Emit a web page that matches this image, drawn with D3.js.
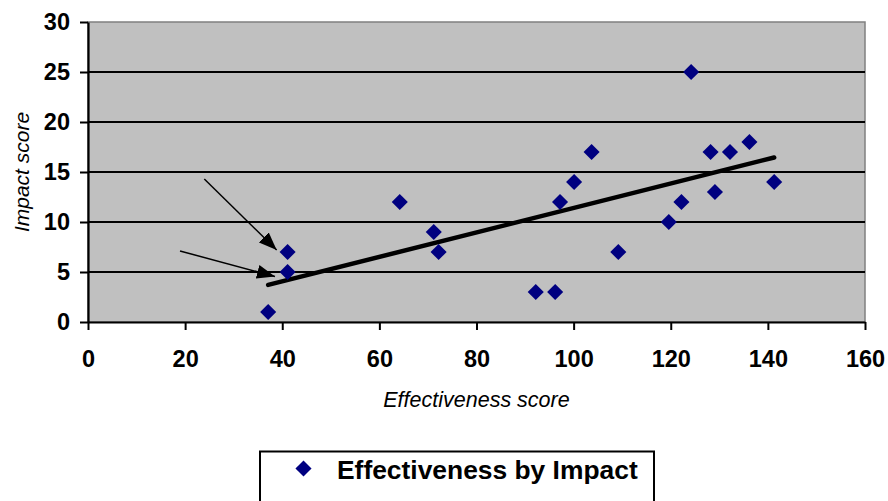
<!DOCTYPE html>
<html>
<head>
<meta charset="utf-8">
<script src="https://cdn.jsdelivr.net/npm/d3@7"></script>
<style>
  html, body { margin: 0; padding: 0; background: #fff; }
  svg { display: block; font-family: "Liberation Sans", Arial, sans-serif; }
</style>
</head>
<body>
<svg id="chart" width="888" height="501"></svg>
<script>
// Effectiveness score (x) and impact score (y) per item
const effectiveness = [37.1, 41.1, 41.1, 64.2, 71.2, 72.2, 92.2, 96.2, 97.2, 100.1,
                       103.7, 109.2, 119.6, 122.2, 124.2, 128.2, 129.1, 132.2, 136.2, 141.3];
const impact        = [1, 7, 5, 12, 9, 7, 3, 3, 12, 14,
                       17, 7, 10, 12, 25, 17, 13, 17, 18, 14];

const xTicks = [0, 20, 40, 60, 80, 100, 120, 140, 160];
const yTicks = [0, 5, 10, 15, 20, 25, 30];

const seriesName = "Effectiveness by Impact";
const xTitle = "Effectiveness score";
const yTitle = "Impact score";

// Annotation arrows, in data units: [x, y] of each tail and head
const arrowsFrom = [[23.95, 14.3], [18.95, 7.1]];
const arrowsTo   = [[38.85, 7.2], [38.5, 4.55]];

const svg = d3.select("#chart");
const plotL = 88, plotR = 865, plotT = 22, plotB = 322;

const x = d3.scaleLinear().domain([0, 160]).range([plotL, plotR]);
const y = d3.scaleLinear().domain([0, 30]).range([plotB, plotT]);

// plot area
svg.append("rect")
  .attr("x", plotL).attr("y", plotT)
  .attr("width", plotR - plotL).attr("height", plotB - plotT)
  .attr("fill", "#c0c0c0")
  .attr("stroke", "#808080").attr("stroke-width", 1.5);

// horizontal gridlines
svg.append("g").selectAll("line")
  .data(yTicks.filter(d => d > 0 && d < 30))
  .join("line")
  .attr("x1", plotL).attr("x2", plotR)
  .attr("y1", d => y(d)).attr("y2", d => y(d))
  .attr("stroke", "#000").attr("stroke-width", 2);

// axes
const xAxis = svg.append("g")
  .attr("transform", `translate(0,${plotB})`)
  .call(d3.axisBottom(x).tickValues(xTicks).tickSize(8).tickPadding(20).tickSizeOuter(0));
const yAxis = svg.append("g")
  .attr("transform", `translate(${plotL},0)`)
  .call(d3.axisLeft(y).tickValues(yTicks).tickSize(8).tickPadding(10).tickSizeOuter(0));

[xAxis, yAxis].forEach(g => {
  g.select(".domain").attr("stroke", "#000").attr("stroke-width", 2.2);
  g.selectAll(".tick line").attr("stroke", "#000").attr("stroke-width", 2);
  g.selectAll(".tick text")
    .attr("fill", "#000")
    .attr("font-family", "'Liberation Sans', Arial, sans-serif")
    .attr("font-weight", "bold")
    .attr("font-size", 23.5);
});
xAxis.selectAll(".tick text").attr("dy", "0.71em");

// axis titles
svg.append("text")
  .attr("x", (plotL + plotR) / 2).attr("y", 406.5)
  .attr("text-anchor", "middle")
  .attr("font-style", "italic")
  .attr("font-size", 21.5)
  .text(xTitle);

svg.append("text")
  .attr("transform", `translate(29,${(plotT + plotB) / 2}) rotate(-90)`)
  .attr("text-anchor", "middle")
  .attr("font-style", "italic")
  .attr("font-size", 21)
  .text(yTitle);

// linear trendline (least squares)
const n = effectiveness.length;
const mx = d3.mean(effectiveness), my = d3.mean(impact);
let sxy = 0, sxx = 0;
for (let i = 0; i < n; i++) {
  sxy += (effectiveness[i] - mx) * (impact[i] - my);
  sxx += (effectiveness[i] - mx) ** 2;
}
const slope = sxy / sxx, intercept = my - slope * mx;
const xMin = d3.min(effectiveness), xMax = d3.max(effectiveness);
svg.append("line")
  .attr("x1", x(xMin)).attr("y1", y(intercept + slope * xMin))
  .attr("x2", x(xMax)).attr("y2", y(intercept + slope * xMax))
  .attr("stroke", "#000").attr("stroke-width", 4.5)
  .attr("stroke-linecap", "round");

// points
const diamond = d3.symbol().type(d3.symbolDiamond2).size(165);
svg.append("g").selectAll("path")
  .data(d3.range(n))
  .join("path")
  .attr("transform", i => `translate(${x(effectiveness[i])},${y(impact[i])})`)
  .attr("d", diamond)
  .attr("fill", "#000080");

// annotation arrows
svg.append("defs").append("marker")
  .attr("id", "arrowhead")
  .attr("viewBox", "0 0 18 14")
  .attr("refX", 18).attr("refY", 7)
  .attr("markerWidth", 18).attr("markerHeight", 14)
  .attr("markerUnits", "userSpaceOnUse")
  .attr("orient", "auto")
  .append("path")
  .attr("d", "M0,0 L18,7 L0,14 Z")
  .attr("fill", "#000");

svg.append("g").selectAll("line")
  .data(d3.range(arrowsFrom.length))
  .join("line")
  .attr("x1", i => x(arrowsFrom[i][0])).attr("y1", i => y(arrowsFrom[i][1]))
  .attr("x2", i => x(arrowsTo[i][0])).attr("y2", i => y(arrowsTo[i][1]))
  .attr("stroke", "#000").attr("stroke-width", 1.5)
  .attr("marker-end", "url(#arrowhead)");

// legend
const legend = svg.append("g");
legend.append("rect")
  .attr("x", 260).attr("y", 451.5)
  .attr("width", 394).attr("height", 60)
  .attr("fill", "#fff")
  .attr("stroke", "#000").attr("stroke-width", 2);
legend.append("path")
  .attr("transform", "translate(303.5,468.5)")
  .attr("d", diamond)
  .attr("fill", "#000080");
legend.append("text")
  .attr("x", 337).attr("y", 479.3)
  .attr("font-weight", "bold")
  .attr("font-size", 26.4)
  .text(seriesName);
</script>
</body>
</html>
